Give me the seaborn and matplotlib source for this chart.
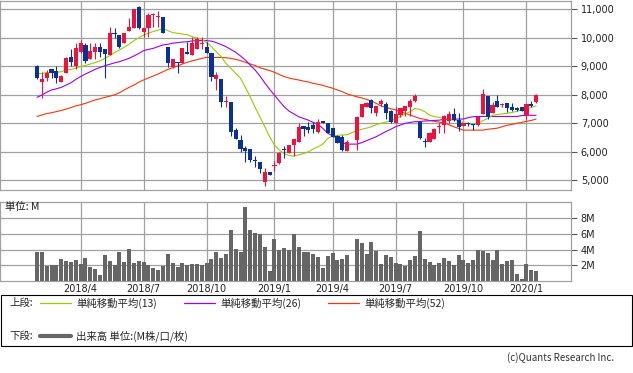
import matplotlib
matplotlib.use('Agg')
import matplotlib.pyplot as plt
from matplotlib.lines import Line2D
from matplotlib.patches import Rectangle
import numpy as np
import pandas as pd
import seaborn as sns

# Weekly bars, Golden Week 2019 had no trading
weeks = pd.date_range('2018-01-29', '2020-01-20', freq='W-MON')
weeks = weeks[weeks != pd.Timestamp('2019-04-29')]

open_ = [9010, 8460, 8600, 8890, 8830, 8460, 8780, 9340, 9010, 9510,
         9750, 9260, 9510, 9680, 9610, 9400, 10180, 10100, 9830, 10250,
         10330, 11090, 10210, 10360, 10790, 10720, 10720, 9690, 8990, 9160,
         9130, 9510, 9400, 9590, 9780, 9690, 9450, 8550, 8550, 7730,
         7730, 6760, 6410, 6140, 6100, 5710, 5640, 4950, 5290, 5500,
         5590, 6090, 5970, 6240, 6350, 6900, 6880, 6940, 6700, 7080,
         7000, 6850, 6550, 6530, 6030,
         6410, 7210, 7580, 7820, 7370, 7680, 7680, 7430, 7020, 7290,
         7440, 7560, 7790, 7060, 6380, 6350, 6440, 6860, 6940, 7090,
         7330, 7110, 6900, 7000, 6970, 6940, 7330, 7960, 7370, 7780,
         7630, 7700, 7580, 7550, 7560, 7290, 7680, 7760]
high = [9030, 8810, 8870, 8900, 9010, 8690, 9340, 9610, 9800, 9920,
        9800, 9830, 9830, 9800, 9610, 10390, 10330, 10110, 10180, 10680,
        11000, 11130, 10360, 10860, 10880, 10940, 10740, 9690, 9240, 9160,
        9630, 9860, 10040, 10040, 10020, 9860, 9450, 8800, 8550, 7960,
        7730, 6820, 6590, 6210, 6100, 5860, 5640, 5420, 5290, 5690,
        6000, 6210, 6230, 6440, 7000, 6900, 7030, 7060, 7150, 7090,
        7020, 6850, 6590, 6590, 6410,
        7260, 7680, 7760, 7860, 7610, 7850, 7760, 7460, 7560, 7550,
        7610, 7840, 8020, 7060, 6490, 6710, 6850, 7000, 7290, 7430,
        7520, 7370, 7020, 7050, 6970, 7230, 8200, 7970, 7760, 7990,
        7720, 7700, 7700, 7580, 7560, 7660, 7780, 8020]
low = [8560, 7880, 8500, 8600, 8420, 8460, 8750, 9010, 8890, 9470,
       9100, 9260, 9260, 9340, 8600, 9400, 9980, 9650, 9830, 10250,
       10330, 10300, 10040, 10040, 10390, 10390, 10180, 8990, 8930, 8750,
       9130, 9420, 9400, 9590, 9610, 9450, 8480, 8170, 7580, 7560,
       6560, 6450, 5990, 5650, 5650, 5480, 5240, 4810, 5180, 5340,
       5560, 5790, 5970, 5850, 6350, 6550, 6670, 6670, 6650, 7000,
       6650, 6530, 6300, 6030, 6030,
       6080, 7210, 7580, 7370, 7260, 7610, 7140, 7020, 7020, 7230,
       7260, 7260, 7760, 6440, 6180, 6350, 6440, 6670, 6670, 7000,
       7090, 6740, 6900, 6900, 6760, 6900, 7330, 7140, 7370, 7580,
       7580, 7410, 7440, 7440, 7430, 7150, 7580, 7720]
close = [8600, 8540, 8750, 8750, 8580, 8660, 9300, 9150, 9630, 9830,
         9190, 9540, 9680, 9510, 9430, 10170, 10130, 9690, 10180, 10390,
         11000, 10330, 10350, 10800, 10800, 10760, 10180, 9100, 9240, 9100,
         9630, 9420, 9830, 9950, 9800, 9450, 8640, 8680, 7730, 7780,
         6700, 6450, 6110, 6040, 5710, 5680, 5380, 5300, 5180, 5520,
         5970, 6060, 6230, 6440, 6880, 6800, 6760, 6790, 7030, 7000,
         6670, 6530, 6300, 6060, 6350,
         7230, 7680, 7720, 7520, 7610, 7790, 7370, 7060, 7330, 7550,
         7610, 7790, 7970, 6470, 6350, 6670, 6790, 6900, 7260, 7330,
         7110, 6880, 7020, 6970, 6940, 7230, 8020, 7230, 7640, 7580,
         7680, 7520, 7470, 7470, 7430, 7660, 7610, 7990]
volume_m = [3.63, 3.71, 1.86, 1.98, 1.98, 2.83, 2.57, 2.45, 2.70, 2.19,
            2.95, 1.81, 1.56, 0.80, 3.33, 2.57, 2.07, 3.71, 2.45, 4.05,
            2.32, 2.57, 2.45, 2.07, 1.69, 1.43, 1.94, 3.46, 2.32, 1.81,
            2.32, 2.07, 2.19, 2.19, 2.07, 2.32, 2.83, 3.71, 2.95, 3.46,
            6.50, 4.09, 3.71, 9.45, 6.50, 6.12, 5.99, 4.35, 1.22, 5.36,
            3.88, 4.22, 3.88, 5.99, 4.35, 3.71, 3.71, 3.46, 3.08, 1.69,
            3.21, 3.59, 2.70, 2.83, 3.33,
            5.36, 4.85, 3.46, 4.98, 3.84, 2.19, 3.33, 3.08, 2.32, 2.19,
            1.94, 2.70, 3.21, 6.37, 2.83, 2.45, 2.07, 2.32, 2.95, 2.57,
            2.07, 3.33, 2.70, 2.32, 2.70, 3.97, 3.84, 3.59, 2.70, 3.97,
            2.19, 2.57, 2.70, 0.93, 0.30, 2.19, 1.43, 1.31]
sma13 = [8730, 8750, 8780, 8780, 8790, 8810, 8860, 8890, 8930, 8990,
         9030, 9080, 9130, 9190, 9280, 9370, 9480, 9570, 9670, 9770,
         9900, 10000, 10090, 10160, 10220, 10270, 10320, 10250, 10180, 10160,
         10130, 10110, 10040, 9990, 9950, 9830, 9690, 9510, 9340, 9100,
         8930, 8750, 8580, 8260, 7930, 7560, 7230, 6880, 6530, 6240,
         6060, 5940, 5870, 5850, 5890, 5940, 6000, 6100, 6180, 6270,
         6470, 6550, 6580, 6590, 6600,
         6740, 6790, 6830, 6880, 6950, 7000, 7040, 7090, 7150, 7230,
         7330, 7410, 7520, 7490, 7410, 7290, 7230, 7210, 7170, 7150,
         7110, 7080, 7020, 6990, 6940, 7000, 7090, 7170, 7280, 7310,
         7330, 7350, 7380, 7420, 7470, 7510, 7560, 7610]
sma26 = [7910, 7990, 8090, 8170, 8210, 8260, 8340, 8420, 8540, 8640,
         8730, 8810, 8890, 8960, 9020, 9070, 9120, 9160, 9220, 9280,
         9360, 9450, 9550, 9590, 9630, 9690, 9750, 9770, 9810, 9830,
         9850, 9860, 9890, 9900, 9900, 9900, 9880, 9830, 9760, 9690,
         9590, 9490, 9360, 9220, 9040, 8870, 8660, 8420, 8190, 7990,
         7780, 7580, 7430, 7330, 7230, 7170, 7110, 7030, 6960, 6820,
         6650, 6560, 6470, 6320, 6270,
         6270, 6320, 6390, 6460, 6530, 6620, 6710, 6790, 6880, 6940,
         7000, 7030, 7060, 7060, 7080, 7090, 7100, 7110, 7140, 7140,
         7140, 7150, 7150, 7200, 7230, 7240, 7240, 7240, 7240, 7240,
         7240, 7240, 7240, 7240, 7270, 7280, 7280, 7280]
sma52 = [7240, 7290, 7340, 7370, 7410, 7450, 7500, 7550, 7610, 7650,
         7700, 7760, 7820, 7860, 7910, 7950, 8000, 8070, 8170, 8260,
         8340, 8440, 8520, 8590, 8660, 8730, 8810, 8890, 8950, 9010,
         9080, 9140, 9190, 9230, 9280, 9310, 9310, 9310, 9310, 9300,
         9280, 9240, 9200, 9140, 9080, 9030, 8950, 8900, 8850, 8790,
         8710, 8640, 8590, 8550, 8520, 8480, 8450, 8400, 8370, 8330,
         8280, 8230, 8170, 8110, 8030,
         7930, 7890, 7840, 7780, 7700, 7610, 7560, 7510, 7470, 7410,
         7350, 7290, 7230, 7170, 7140, 7100, 7070, 7040, 7010, 6950,
         6880, 6820, 6760, 6760, 6760, 6760, 6760, 6790, 6810, 6830,
         6880, 6930, 6960, 7000, 7030, 7070, 7100, 7150]
month_labels = ['2018/4', '2018/7', '2018/10', '2019/1',
                '2019/4', '2019/7', '2019/10', '2020/1']
price_ticks = [5000, 6000, 7000, 8000, 9000, 10000, 11000]
vol_ticks = [2, 4, 6, 8]

RED = '#f0123c'
BLUE = '#0a3296'
GRID = '#a0a0a0'
W, H = 633, 373

df = pd.DataFrame({'week': weeks, 'open': open_, 'high': high, 'low': low,
                   'close': close, 'volume': volume_m,
                   'sma13': sma13, 'sma26': sma26, 'sma52': sma52})
df['x'] = (df['week'] - weeks[0]).dt.days / 7
df['color'] = np.where(df['close'] >= df['open'], RED, BLUE)

# first trading week of each labelled month
tick_x = []
for lab in month_labels:
    y, m = [int(v) for v in lab.split('/')]
    sel = df[(df['week'].dt.year == y) & (df['week'].dt.month == m)]
    tick_x.append(sel['x'].iloc[0])

sns.set_theme(style='white')
plt.rcParams['font.family'] = ['DejaVu Sans', 'Noto Sans CJK JP']
JP = ['Noto Sans CJK JP', 'DejaVu Sans']

fig = plt.figure(figsize=(W / 100, H / 100), dpi=100)


def fx(px):
    return px / W


def fy(py):
    return 1 - py / H


ax_p = fig.add_axes([0.0, fy(190.3), fx(571), (190.3 - 0.7) / H])
ax_v = fig.add_axes([0.0, fy(281), fx(571), (281 - 202.3) / H])
xlim = (-37 / 4.846, (571 - 37) / 4.846)

# price panel
for col, c in [('sma52', '#ff3300'), ('sma26', '#9900ff'), ('sma13', '#99cc00')]:
    sns.lineplot(data=df, x='x', y=col, color=c, lw=0.8, ax=ax_p, zorder=2)
ax_p.vlines(df['x'], df['low'], df['high'], colors=df['color'], lw=0.8, zorder=3)
body = np.maximum((df['close'] - df['open']).abs(), 30)
ax_p.bar(df['x'], body, bottom=np.minimum(df['open'], df['close']), width=0.85,
         color=df['color'], lw=0, zorder=4)
ax_p.set_xlim(*xlim)
ax_p.set_ylim(4650, 11300)
ax_p.set_xticks(tick_x)
ax_p.set_xticklabels([])
ax_p.set_yticks(price_ticks)
ax_p.set_yticklabels(['{:,}'.format(v) for v in price_ticks])

# volume panel
ax_v.bar(df['x'], df['volume'], width=0.83, color='#666666', lw=0, zorder=3)
ax_v.set_xlim(*xlim)
ax_v.set_ylim(0, 10)
ax_v.set_xticks(tick_x)
ax_v.set_xticklabels(month_labels)
ax_v.set_yticks(vol_ticks)
ax_v.set_yticklabels(['%dM' % v for v in vol_ticks])

for ax in (ax_p, ax_v):
    ax.set_xlabel('')
    ax.set_ylabel('')
    ax.grid(True, color=GRID, lw=0.9)
    ax.set_axisbelow(True)
    for s in ax.spines.values():
        s.set_color(GRID)
        s.set_linewidth(0.9)
    ax.yaxis.tick_right()
    ax.tick_params(axis='y', which='both', right=True, length=4, width=0.8,
                   color='#555555', labelsize=7, pad=3, labelcolor='#222222')
    ax.tick_params(axis='x', length=0, labelsize=7, pad=2, labelcolor='#222222')

fig.text(fx(5), fy(207), '単位: M', fontsize=7.5, family=JP, va='center', color='#222222')

# legend box
fig.add_artist(Rectangle((fx(0.5), fy(346)), fx(631.5), (346 - 295) / H,
                         transform=fig.transFigure, fill=False, ec='black', lw=0.8))
row1, row2 = 303, 336
fig.text(fx(9), fy(row1), '上段:', fontsize=7.5, family=JP, va='center')
for x0, c, lab in [(40, '#99cc00', '単純移動平均(13)'),
                   (184, '#9900ff', '単純移動平均(26)'),
                   (328, '#ff3300', '単純移動平均(52)')]:
    fig.add_artist(Line2D([fx(x0), fx(x0 + 31)], [fy(row1), fy(row1)],
                          transform=fig.transFigure, color=c, lw=0.9))
    fig.text(fx(x0 + 36), fy(row1), lab, fontsize=7.5, family=JP, va='center')
fig.text(fx(9), fy(row2), '下段:', fontsize=7.5, family=JP, va='center')
fig.add_artist(Line2D([fx(40), fx(71)], [fy(row2), fy(row2)],
                      transform=fig.transFigure, color='#666666', lw=3))
fig.text(fx(76), fy(row2), '出来高 単位:(M株/口/枚)', fontsize=7.5, family=JP, va='center')

fig.text(fx(614), fy(358), '(c)Quants Research Inc.', fontsize=7, family=JP,
         va='center', ha='right', color='#333333')

fig.savefig('out.png', dpi=100)
